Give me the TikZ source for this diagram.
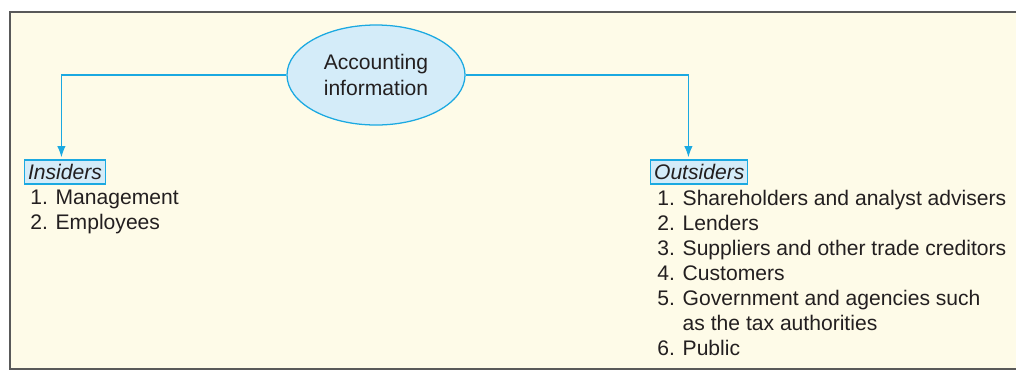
\documentclass[tikz,border=0pt]{standalone}
\usepackage{fontspec}
\setmainfont{Liberation Sans}
\usetikzlibrary{arrows.meta,positioning,shapes.geometric}
\definecolor{paper}{HTML}{FEFBE8}
\definecolor{skyline}{HTML}{1BA9E1}
\definecolor{skyfill}{HTML}{D4ECF9}
\definecolor{ink}{HTML}{231F20}

\begin{document}
\begin{tikzpicture}[x=0.025cm, y=-0.025cm,
    font=\fontsize{15}{17.8}\selectfont, text=ink,
    link/.style={skyline, line width=0.9pt, shorten >=1.5pt, -{Latex[length=8pt,width=6pt]}},
    tag/.style={draw=skyline, fill=skyfill, line width=0.8pt, font=\fontsize{15}{17.8}\selectfont\itshape,
        inner xsep=2.5pt, inner ysep=0pt, minimum height=0.6cm, anchor=west},
    items/.style={align=left, inner sep=0pt, anchor=north west}]
    \useasboundingbox (0,0) rectangle (1016,370);
    \fill[paper] (10,12) rectangle (1020,369);
    \draw[black!65, line width=1.2pt] (1020,12) -- (10,12) -- (10,369) -- (1020,369);
    % source
    \node[ellipse, draw=skyline, fill=skyfill, line width=0.9pt, minimum width=4.45cm, minimum height=2.5cm,
        align=center, font=\fontsize{15}{18.5}\selectfont] (info) at (376,75) {Accounting\\information};
    % users
    \node[tag] (ins) at (24,172) {Insiders};
    \node[tag] (outs) at (650,172) {Outsiders};
    \node[items] (inslist) at (30,190) {1. Management\\2. Employees};
    \node[items] (outslist) at (657,190) {1. Shareholders and analyst advisers\\2. Lenders\\
        3. Suppliers and other trade creditors\\4. Customers\\5. Government and agencies such\\
        \phantom{5. }as the tax authorities\\6. Public};
    \draw[link] (info.west) -| ([xshift=-0.09cm]ins.north);
    \draw[link] (info.east) -| ([xshift=-0.27cm]outs.north);
\end{tikzpicture}
\end{document}
